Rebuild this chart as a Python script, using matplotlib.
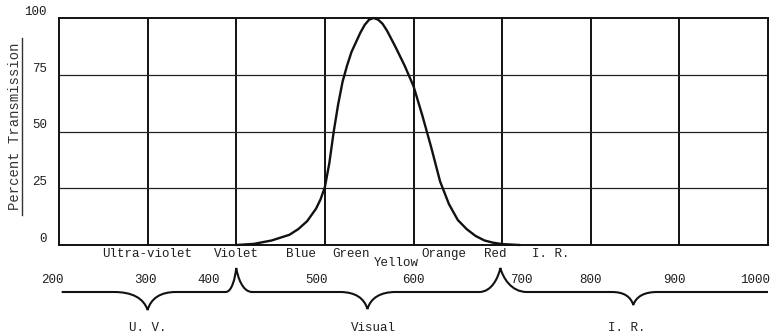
import matplotlib
matplotlib.use("Agg")
import matplotlib.pyplot as plt
import matplotlib.transforms as mtransforms
from matplotlib.path import Path
from matplotlib.patches import PathPatch

# ---- data ----
wavelength_nm = [400, 420, 440, 460, 470, 480, 490, 495, 500, 505, 510, 515, 520,
                 525, 530, 540, 545, 550, 555, 560, 565, 570, 580, 590, 600, 610,
                 620, 630, 640, 650, 660, 670, 680, 690, 700, 720]
transmission_pct = [0, 0.5, 2, 4.5, 7, 10.5, 16, 20, 25.5, 36, 50, 62, 72,
                    79, 85, 93.5, 97, 99.3, 100, 99.3, 97.5, 94.5, 87, 79, 70, 57,
                    43, 28, 18, 11, 7, 4, 2, 1, 0.4, 0]
y_ticks = [0, 25, 50, 75, 100]
x_grid = [300, 400, 500, 600, 700, 800, 900]
scale_labels = ["200", "300", "400", "500", "600", "700", "800", "900", "1000"]
scale_values = [200, 300, 400, 500, 600, 700, 800, 900, 1000]
color_names = ["Ultra-violet", "Violet", "Blue", "Green", "Yellow", "Orange", "Red", "I. R."]
color_centers = [299, 400, 473, 530, 581, 634, 692, 755]
region_names = ["U. V.", "Visual", "I. R."]
region_centers = [300, 555, 841]

FONT = "Liberation Mono"
TXT = "#1e1e1e"

fig = plt.figure(figsize=(7.73, 3.35), dpi=100)
W, H = 773, 335
ax = fig.add_axes([59 / W, 90 / H, 709 / W, 227 / H])
ax.set_xlim(200, 1000)
ax.set_ylim(0, 100)
ax.set_xticks([])
ax.set_yticks([])
for s in ax.spines.values():
    s.set_linewidth(1.4)
    s.set_color("#111111")

for x in x_grid:
    ax.axvline(x, color="#111111", lw=1.4, zorder=1)
for y in y_ticks[1:-1]:
    ax.axhline(y, color="#222222", lw=0.9, zorder=1)

ax.plot(wavelength_nm, transmission_pct, color="#111111", lw=1.7, zorder=3,
        solid_joinstyle="round", solid_capstyle="round", clip_on=False)

# y tick labels
px_to_nm = 800 / 709
px_to_pct = 100 / 227
for v in y_ticks:
    ax.text(200 - 12 * px_to_nm, v + 6 * px_to_pct, str(v), ha="right", va="center",
            fontsize=9, family=FONT, color=TXT, clip_on=False)

# y label with underline
fig.text(15 / W, 1 - 126 / H, "Percent Transmission", rotation=90, ha="center",
         va="center", fontsize=10, family=FONT, color="#333333")
fig.add_artist(plt.Line2D([22 / W, 22 / W], [1 - 38 / H, 1 - 215 / H],
                          color="#333333", lw=1.0))

blend = mtransforms.blended_transform_factory(ax.transData, fig.transFigure)

# color names row
for name, c in zip(color_names, color_centers):
    ypix = 263 if name == "Yellow" else 254
    fig.text(c, 1 - ypix / H, name, transform=blend, ha="center",
             va="center", fontsize=9, family=FONT, color=TXT)

# scale number row
scale_offsets = [-7, -2, -31, -9, 0, 22, 0, -6, -14.5]
for lab, v, off in zip(scale_labels, scale_values, scale_offsets):
    fig.text(v + off, 1 - 280 / H, lab, transform=blend, ha="center", va="center",
             fontsize=9, family=FONT, color=TXT)

# braces
y0 = 1 - 292 / H
ytop = 1 - 268 / H


def cusp(xl, xm, xr, yb):
    dl, dr = xm - xl, xr - xm
    return [((xl + 0.55 * dl, y0), (xm - 0.12 * dl, y0 - 0.35 * (y0 - yb)), (xm, yb)),
            ((xm + 0.12 * dr, y0 - 0.35 * (y0 - yb)), (xr - 0.55 * dr, y0), (xr, y0))]


def tip(xl, xt, xr):
    dl, dr = xt - xl, xr - xt
    return [((xl + 0.6 * dl, y0), (xt - 0.1 * dl, y0 + 0.6 * (ytop - y0)), (xt, ytop)),
            ((xt + 0.1 * dr, y0 + 0.6 * (ytop - y0)), (xr - 0.6 * dr, y0), (xr, y0))]


verts = [(203, y0)]
codes = [Path.MOVETO]


def add_line(p):
    verts.append(p)
    codes.append(Path.LINETO)


def add_curves(curves):
    for c in curves:
        verts.extend(c)
        codes.extend([Path.CURVE4] * 3)


add_line((262, y0))
add_curves(cusp(262, 300, 332, 1 - 310 / H))
add_line((388, y0))
add_curves(tip(388, 400, 418))
add_line((517, y0))
add_curves(cusp(517, 548, 580, 1 - 309 / H))
add_line((674, y0))
add_curves(tip(674, 698, 728))
add_line((824, y0))
add_curves(cusp(824, 848, 875, 1 - 305 / H))
add_line((1000, y0))

patch = PathPatch(Path(verts, codes), transform=blend, fill=False, lw=1.5,
                  edgecolor="#111111", clip_on=False)
fig.add_artist(patch)

for name, c in zip(region_names, region_centers):
    fig.text(c, 1 - 328 / H, name, transform=blend, ha="center", va="center",
             fontsize=9, family=FONT, color=TXT)

fig.savefig("out.png", dpi=100, facecolor="white")
